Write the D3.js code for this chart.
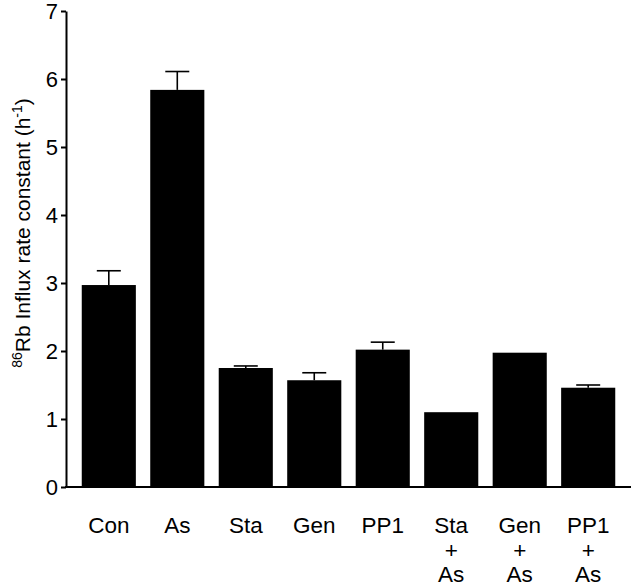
<!DOCTYPE html>
<html>
<head>
<meta charset="utf-8">
<script src="https://cdn.jsdelivr.net/npm/d3@7"></script>
<style>
  html, body { margin: 0; padding: 0; background: #fff; }
  svg { display: block; }
  text { font-family: "Liberation Sans", Arial, Helvetica, sans-serif; fill: #000; }
</style>
</head>
<body>
<svg id="chart" width="633" height="588"></svg>
<script>
// ---- data ----
const categories = ["Con", "As", "Sta", "Gen", "PP1", "Sta+As", "Gen+As", "PP1+As"];
const categoryLines = [["Con"], ["As"], ["Sta"], ["Gen"], ["PP1"], ["Sta", "+", "As"], ["Gen", "+", "As"], ["PP1", "+", "As"]];
const values = [2.97, 5.84, 1.75, 1.57, 2.02, 1.10, 1.975, 1.46];
const errors = [0.21, 0.27, 0.03, 0.11, 0.11, 0.0, 0.0, 0.04];
const yTicks = [0, 1, 2, 3, 4, 5, 6, 7];

// ---- layout ----
const svg = d3.select("#chart");
const axisX = 66, axisY = 487, topY = 11, rightX = 631;

const x = d3.scaleBand().domain(categories).range([axisX, rightX])
  .paddingInner(0.21).paddingOuter(0.23);
const y = d3.scaleLinear().domain([0, 7]).range([axisY, topY]);

// bars
svg.append("g").selectAll("rect").data(categories).join("rect")
  .attr("x", d => x(d))
  .attr("width", x.bandwidth())
  .attr("y", (d, i) => y(values[i]))
  .attr("height", (d, i) => y(0) - y(values[i]))
  .attr("fill", "#000");

// error bars
const eg = svg.append("g").attr("stroke", "#000").attr("stroke-width", 1.6);
categories.forEach((c, i) => {
  if (errors[i] <= 0) return;
  const cx = x(c) + x.bandwidth() / 2;
  eg.append("line").attr("x1", cx).attr("x2", cx)
    .attr("y1", y(values[i])).attr("y2", y(values[i] + errors[i]));
  eg.append("line").attr("x1", cx - 12).attr("x2", cx + 12)
    .attr("y1", y(values[i] + errors[i])).attr("y2", y(values[i] + errors[i]));
});

// y axis
const yAxis = svg.append("g").attr("transform", `translate(${axisX},0)`)
  .call(d3.axisLeft(y).tickValues(yTicks).tickFormat(d3.format("d")).tickSize(5).tickPadding(3).tickSizeOuter(0));
yAxis.select(".domain").attr("stroke-width", 2);
yAxis.selectAll(".tick line").attr("stroke-width", 2);
yAxis.selectAll(".tick text").style("font-size", "22px").attr("font-family", null).attr("dy", "0.34em");

// x axis line
svg.append("line").attr("x1", axisX - 1).attr("x2", rightX)
  .attr("y1", axisY).attr("y2", axisY)
  .attr("stroke", "#000").attr("stroke-width", 2);

// x labels
const xl = svg.append("g");
categories.forEach((c, i) => {
  const t = xl.append("text")
    .attr("x", x(c) + x.bandwidth() / 2)
    .attr("y", 533)
    .attr("text-anchor", "middle")
    .style("font-size", "22.5px");
  categoryLines[i].forEach((ln, k) => {
    t.append("tspan").attr("x", x(c) + x.bandwidth() / 2)
      .attr("dy", k === 0 ? 0 : 24.5).text(ln);
  });
});

// y title
const title = svg.append("text")
  .attr("transform", "translate(30,233) rotate(-90)")
  .attr("text-anchor", "middle")
  .style("font-size", "21px");
title.append("tspan").attr("baseline-shift", "super").style("font-size", "14px").text("86");
title.append("tspan").text("Rb Influx rate constant (h");
title.append("tspan").attr("baseline-shift", "super").style("font-size", "14px").text("-1");
title.append("tspan").text(")");
</script>
</body>
</html>
